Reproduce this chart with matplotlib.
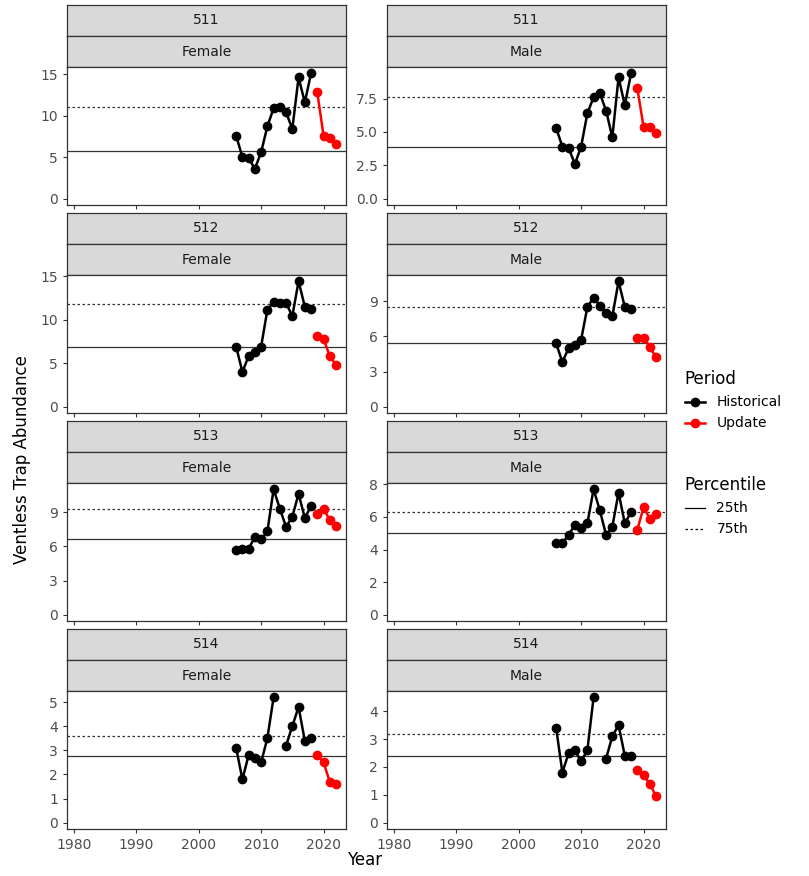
import numpy as np
import matplotlib
matplotlib.use("Agg")
from matplotlib import pyplot as plt
from matplotlib.lines import Line2D

hist_years = list(range(2006, 2019))
upd_years = [2019, 2020, 2021, 2022]
nan = np.nan

areas = ["511", "511", "512", "512", "513", "513", "514", "514"]
sexes = ["Female", "Male"] * 4
hist = [
    [7.6, 5.0, 4.9, 3.6, 5.6, 8.7, 10.9, 11.1, 10.4, 8.4, 14.6, 11.6, 15.1],
    [5.3, 3.9, 3.8, 2.6, 3.9, 6.4, 7.6, 7.9, 6.6, 4.6, 9.1, 7.0, 9.4],
    [6.9, 4.0, 5.8, 6.3, 6.9, 11.1, 12.0, 11.9, 11.9, 10.4, 14.4, 11.5, 11.2],
    [5.4, 3.8, 5.0, 5.3, 5.7, 8.5, 9.3, 8.6, 8.0, 7.7, 10.7, 8.5, 8.3],
    [5.7, 5.8, 5.8, 6.8, 6.6, 7.3, 11.0, 9.3, 7.7, 8.6, 10.6, 8.5, 9.5],
    [4.4, 4.4, 4.9, 5.5, 5.3, 5.6, 7.7, 6.4, 4.9, 5.4, 7.5, 5.6, 6.3],
    [3.1, 1.8, 2.8, 2.7, 2.5, 3.5, 5.2, nan, 3.2, 4.0, 4.8, 3.4, 3.5],
    [3.4, 1.8, 2.5, 2.6, 2.2, 2.6, 4.5, nan, 2.3, 3.1, 3.5, 2.4, 2.4],
]
upd = [
    [12.8, 7.6, 7.3, 6.6],
    [8.3, 5.4, 5.4, 4.9],
    [8.1, 7.8, 5.8, 4.8],
    [5.9, 5.9, 5.1, 4.2],
    [8.8, 9.3, 8.3, 7.8],
    [5.2, 6.6, 5.9, 6.2],
    [2.8, 2.5, 1.7, 1.6],
    [1.9, 1.7, 1.4, 0.95],
]
p25 = [5.7, 3.9, 6.9, 5.4, 6.6, 5.0, 2.75, 2.4]
p75 = [11.1, 7.6, 11.8, 8.5, 9.3, 6.3, 3.6, 3.2]
yticks = [
    [0, 5, 10, 15], [0, 2.5, 5, 7.5], [0, 5, 10, 15], [0, 3, 6, 9],
    [0, 3, 6, 9], [0, 2, 4, 6, 8], [0, 1, 2, 3, 4, 5], [0, 1, 2, 3, 4],
]
ylabels = [
    ["0", "5", "10", "15"], ["0.0", "2.5", "5.0", "7.5"], ["0", "5", "10", "15"], ["0", "3", "6", "9"],
    ["0", "3", "6", "9"], ["0", "2", "4", "6", "8"], ["0", "1", "2", "3", "4", "5"], ["0", "1", "2", "3", "4"],
]

W, H = 809, 876
fig = plt.figure(figsize=(W / 100, H / 100), dpi=100)
grey = "#4d4d4d"
lefts = [67, 387]
widths = 279
tops = [5, 213, 421, 629]
strip_h = 31
panel_h = 208 - 2 * strip_h - 8

def fx(px):
    return px / W

def fy(py):
    return 1 - py / H

for i in range(8):
    r, c = divmod(i, 2)
    x0 = lefts[c]
    t = tops[r]
    for k, lab in enumerate([areas[i], sexes[i]]):
        sa = fig.add_axes([fx(x0), fy(t + (k + 1) * strip_h), widths / W, strip_h / H])
        sa.set_facecolor("#d9d9d9")
        sa.set_xticks([]); sa.set_yticks([])
        for s in sa.spines.values():
            s.set_color("#333333"); s.set_linewidth(0.9)
        sa.text(0.5, 0.5, lab, ha="center", va="center", fontsize=10, color="#1a1a1a", transform=sa.transAxes)
    ax = fig.add_axes([fx(x0), fy(t + 2 * strip_h + panel_h), widths / W, panel_h / H])
    allv = np.array(hist[i] + upd[i], dtype=float)
    ymax = np.nanmax(allv)
    ax.set_ylim(-0.05 * ymax, ymax * 1.05)
    ax.set_xlim(1978.9, 2023.6)
    ax.axhline(p25[i], color="#333333", lw=0.9)
    ax.axhline(p75[i], color="#333333", lw=0.9, ls=(0, (2, 2)))
    ax.plot(hist_years, hist[i], color="black", lw=1.8, marker="o", ms=6)
    ax.plot(upd_years, upd[i], color="red", lw=1.8, marker="o", ms=6)
    ax.set_yticks(yticks[i])
    ax.set_yticklabels(ylabels[i], color=grey, fontsize=10)
    ax.set_xticks([1980, 1990, 2000, 2010, 2020])
    if r == 3:
        ax.set_xticklabels(["1980", "1990", "2000", "2010", "2020"], color=grey, fontsize=10)
    else:
        ax.set_xticklabels([])
    ax.tick_params(color="#333333", length=3)
    for s in ax.spines.values():
        s.set_color("#333333"); s.set_linewidth(0.9)

fig.text(fx(22), fy(460), "Ventless Trap Abundance", rotation=90, ha="center", va="center", fontsize=12)
fig.text(fx(365), fy(860), "Year", ha="center", va="center", fontsize=12)

h1 = [Line2D([], [], color="black", lw=1.8, marker="o", ms=6, label="Historical"),
      Line2D([], [], color="red", lw=1.8, marker="o", ms=6, label="Update")]
fig.legend(handles=h1, title="Period", loc="upper left", bbox_to_anchor=(fx(672), fy(358)),
           frameon=False, fontsize=10, title_fontsize=12, handlelength=1.5, alignment="left")
h2 = [Line2D([], [], color="black", lw=0.9, label="25th"),
      Line2D([], [], color="black", lw=0.9, ls=(0, (2, 2)), label="75th")]
fig.legend(handles=h2, title="Percentile", loc="upper left", bbox_to_anchor=(fx(672), fy(464)),
           frameon=False, fontsize=10, title_fontsize=12, handlelength=1.5, alignment="left")

fig.savefig("out.png", dpi=100)
